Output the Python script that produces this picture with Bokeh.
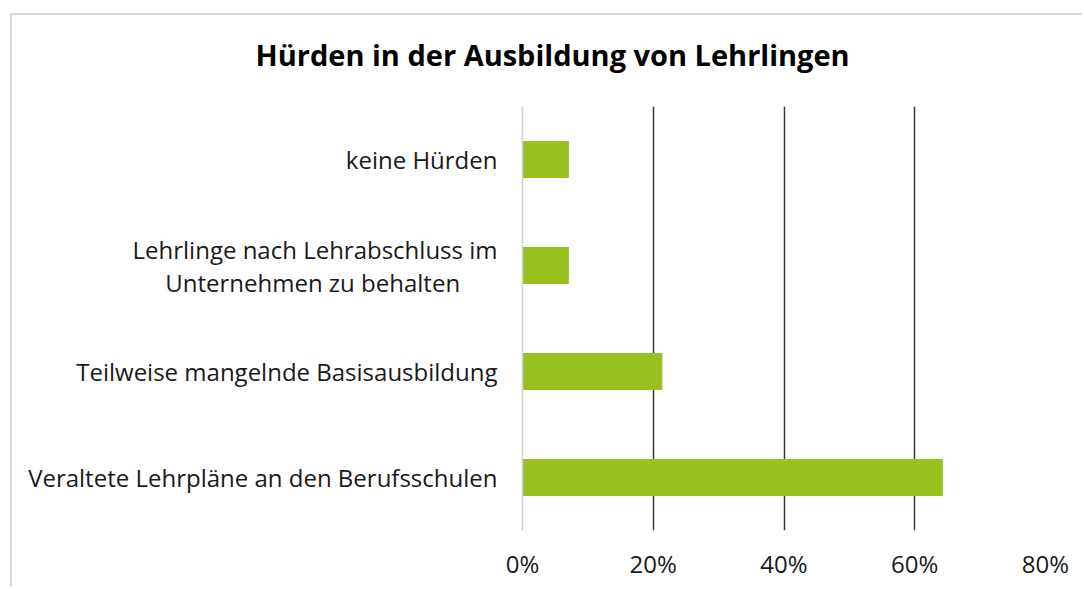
from bokeh.plotting import figure
from bokeh.models import FactorRange, Range1d, FixedTicker, NumeralTickFormatter, Title
from bokeh.embed import file_html
from bokeh.resources import INLINE

title = "Hürden in der Ausbildung von Lehrlingen"
categories = [
    "Veraltete Lehrpläne an den Berufsschulen",
    "Teilweise mangelnde Basisausbildung",
    "Lehrlinge nach Lehrabschluss im\nUnternehmen zu behalten\u00a0\u00a0\u00a0\u00a0\u00a0\u00a0",
    "keine Hürden",
]
values = [0.643, 0.214, 0.071, 0.071]
x_ticks = [0, 0.2, 0.4, 0.6, 0.8]

FONT = "Open Sans"

p = figure(width=1072, height=574, output_backend="svg", toolbar_location=None,
           y_range=FactorRange(factors=categories, range_padding=0),
           x_range=Range1d(0, 0.8),
           min_border_left=510, min_border_right=39, min_border_top=91, min_border_bottom=59,
           styles={"margin-left": "10px", "margin-top": "13px",
                   "border-top": "2px solid #d9d9d9", "border-left": "2px solid #d9d9d9"})

p.hbar(y=categories, right=values, left=0, height=0.35, color="#99C221", line_color=None)

p.outline_line_color = None
p.background_fill_color = "white"
p.border_fill_color = "white"

# invisible spacer between title and plot area
p.add_layout(Title(text=" ", text_font_size="10px", standoff=16), "above")

# title
p.title.text = title
p.title.align = "left"
p.title.offset = -267
p.title.vertical_align = "top"
p.title.text_font = FONT
p.title.text_font_style = "bold"
p.title.text_font_size = "29px"
p.title.text_color = "#000000"
p.title.standoff = 4

# x axis
p.xaxis.ticker = FixedTicker(ticks=x_ticks)
p.xaxis.formatter = NumeralTickFormatter(format="0%")
p.xaxis.axis_line_color = None
p.xaxis.major_tick_line_color = None
p.xaxis.minor_tick_line_color = None
p.xaxis.major_label_text_font = FONT
p.xaxis.major_label_text_font_size = "24px"
p.xaxis.major_label_text_color = "#1a1a1a"
p.xaxis.major_label_standoff = 10

# y axis
p.yaxis.axis_line_color = "#d0d0d0"
p.yaxis.axis_line_width = 1.5
p.yaxis.major_tick_line_color = None
p.yaxis.minor_tick_line_color = None
p.yaxis.major_label_text_font = FONT
p.yaxis.major_label_text_font_size = "24px"
p.yaxis.major_label_text_color = "#1a1a1a"
p.yaxis.major_label_text_line_height = 1.0
p.yaxis.major_label_standoff = 19

# grid
p.ygrid.grid_line_color = None
p.xgrid.ticker = FixedTicker(ticks=x_ticks[1:])
p.xgrid.grid_line_color = "#3a3a3a"
p.xgrid.grid_line_width = 1.5

open("out.html", "w").write(file_html(p, INLINE))
